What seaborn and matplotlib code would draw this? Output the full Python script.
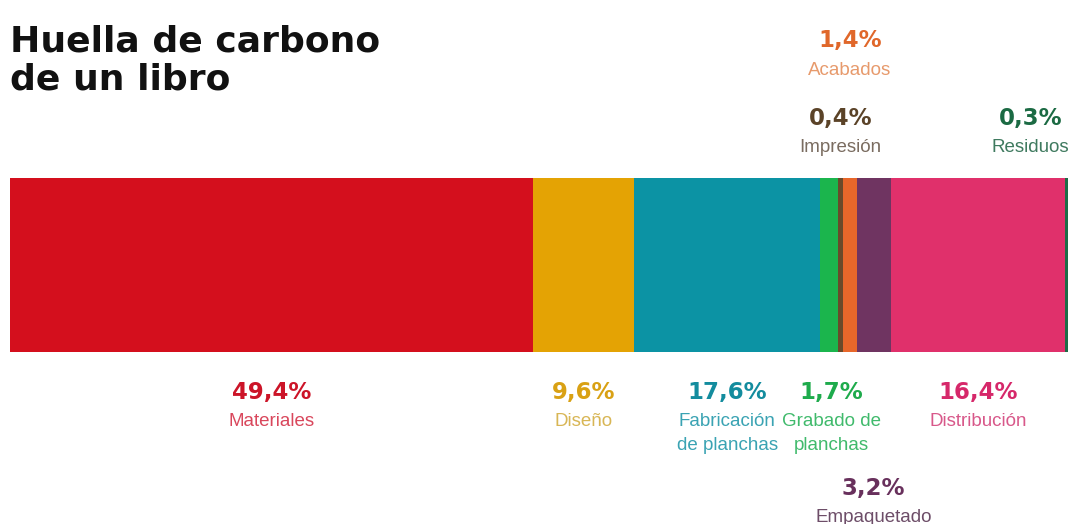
import matplotlib
matplotlib.use("Agg")
import matplotlib.pyplot as plt
import matplotlib.transforms as mtransforms
import seaborn as sns
import numpy as np
import pandas as pd

# ---- data ----
categories = ["Materiales", "Diseño", "Fabricación\nde planchas", "Grabado de\nplanchas",
              "Impresión", "Acabados", "Empaquetado", "Distribución", "Residuos"]
values = [49.4, 9.6, 17.6, 1.7, 0.4, 1.4, 3.2, 16.4, 0.3]
pct_labels = ["49,4%", "9,6%", "17,6%", "1,7%", "0,4%", "1,4%", "3,2%", "16,4%", "0,3%"]

# ---- style ----
bar_colors = ["#d40f1d", "#e4a304", "#0c93a4", "#1bb54d", "#6a4a2a",
              "#e8672a", "#6f3461", "#e0306b", "#1d6b46"]
pct_colors = ["#cc1428", "#d9a114", "#138c9e", "#1eab4c", "#5b4328",
              "#e0672a", "#68305c", "#d6286a", "#1b6a43"]
name_colors = ["#d9475c", "#d8b655", "#3aa3b3", "#40ba6c", "#7a6c60",
               "#e79a6c", "#6d4d68", "#d8588a", "#3f7a5f"]
# (label placement: above/below the bar, row, horizontal pixel shift)
placement = {
    "Materiales": ("below", 0, 0), "Diseño": ("below", 0, 0),
    "Fabricación\nde planchas": ("below", 0, 0), "Grabado de\nplanchas": ("below", 0, 2),
    "Impresión": ("above", 1, 0), "Acabados": ("above", 0, 0),
    "Empaquetado": ("below", 1, -1), "Distribución": ("below", 0, 0),
    "Residuos": ("above", 1, -36),
}

W, H = 1071, 524
fig = plt.figure(figsize=(W / 100, H / 100), dpi=100)
sns.set_style("white")
ax = fig.add_axes([10 / W, 0, 1058 / W, 1])

cum_end = np.cumsum(values)
cum_start = cum_end - np.array(values)

# stacked bar: draw cumulative ends from last to first
for i in range(len(values) - 1, -1, -1):
    df = pd.DataFrame({"x": [cum_end[i]], "y": ["libro"]})
    sns.barplot(data=df, x="x", y="y", orient="h", color=bar_colors[i],
                saturation=1, width=0.8, linewidth=0, errorbar=None, ax=ax)

# bar spans pixels 178..352 vertically
ppu = 174 / 0.8
top = -0.4 - 178 / ppu
bottom = 0.4 + (H - 352) / ppu
ax.set_ylim(bottom, top)
ax.set_xlim(0, 100)
ax.axis("off")

trans = mtransforms.blended_transform_factory(ax.transData, fig.transFigure)


def yf(ypix):
    return 1 - ypix / H


pct_font = dict(family="DejaVu Sans", fontweight="bold", fontsize=16.5)
name_font = dict(family="Liberation Sans", fontsize=13.5)

rows_y = {("below", 0): (392, 422), ("below", 1): (488, 517),
          ("above", 0): (40, 70), ("above", 1): (118, 147)}

for i, cat in enumerate(categories):
    side, row, shift = placement[cat]
    xc = (cum_start[i] + cum_end[i]) / 2 + shift * 100 / 1058
    yp, yn = rows_y[(side, row)]
    ax.text(xc, yf(yp), pct_labels[i], transform=trans, ha="center", va="center",
            color=pct_colors[i], **pct_font)
    for k, line in enumerate(cat.split("\n")):
        ax.text(xc, yf(yn + 24 * k), line, transform=trans, ha="center", va="center",
                color=name_colors[i], **name_font)

title_font = dict(family="DejaVu Sans", fontweight="bold", fontsize=26, color="#111111")
fig.text(10 / W, yf(52), "Huella de carbono", ha="left", va="baseline", **title_font)
fig.text(10 / W, yf(89), "de un libro", ha="left", va="baseline", **title_font)

fig.savefig("out.png", dpi=100, facecolor="white")
